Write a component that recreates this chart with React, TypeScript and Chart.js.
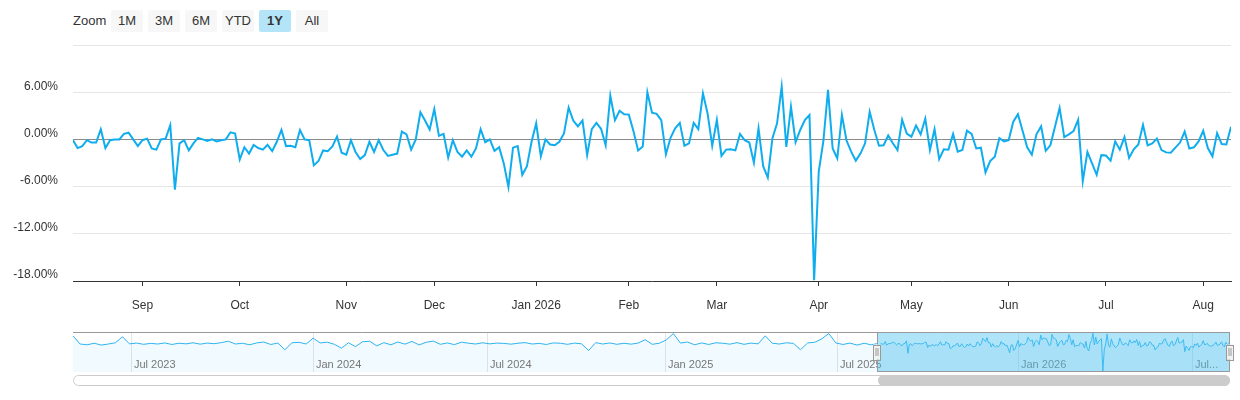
import React, { useEffect, useRef } from 'react';
import { Chart, registerables } from 'chart.js';

Chart.register(...registerables);

const FONT = '"Liberation Sans", Arial, Helvetica, sans-serif';
const LINE_COLOR = '#0fadee';

// Daily returns (%) for the selected 1Y window (trading days)
const DAILY_RETURNS: number[] = [
  -0.1, -1.1, -0.85, -0.1, -0.4, -0.4, 1.3, -1.1, -0.1, 0.0,
  0.0, 0.7, 0.85, 0.0, -0.85, -0.1, 0.1, -1.15, -1.3, 0.0,
  0.1, 1.8, -6.4, -0.5, -0.1, -1.4, -0.5, 0.2, 0.0, -0.2,
  0.0, -0.25, -0.1, 0.0, 0.9, 0.75, -2.55, -1.0, -1.8, -0.7,
  -1.1, -1.3, -0.7, -1.5, -0.3, 1.2, -0.85, -0.8, -1.0, 1.2,
  0.0, -0.1, -3.3, -2.75, -1.4, -1.5, -0.9, 0.35, -1.7, -1.95,
  -0.1, -1.6,
  -2.5, -2.0, -0.3, -1.6, -0.1, -1.35, -2.1, -1.95, -1.8, 1.0,
  0.65, -1.3, 0.0, 3.45, 2.4, 1.25, 3.85, 0.45, 0.7, -2.3,
  -0.1, -1.6, -2.2, -1.4, -2.2, -1.15, 1.3, -0.35, 0.0, -1.45,
  -1.0, -3.05, -6.05, -1.05, -0.85, -4.5, -3.4, -0.3, 2.05, -2.15,
  0.0, -0.65, -0.75, -0.3, 0.75, 4.05, 2.4, 1.65, 2.4, -2.0,
  1.3, 2.1, 1.35, -0.75, 5.55, 2.45, 3.65, 3.2, 3.15, 1.05,
  -1.4, -0.9,
  6.0, 3.4, 3.25, 2.45, -1.9, 0.2, 1.4, 2.1, -0.8, -0.5,
  2.1, 1.3, 5.85, 3.3, -0.8, 2.45, -2.1, -1.3, -1.25, -1.4,
  0.7, -0.1, -0.4, -2.95, 1.4, -3.4, -4.85, 0.15, 2.05, 6.7,
  -0.95, 4.15, -0.35, 1.2, 2.45, 3.1, -17.9, -4.1, -0.2, 6.3,
  -1.15, -2.4, 3.1, -0.15, -1.55, -2.7, -1.8, -0.5, 3.5, 1.2,
  -0.8, -0.75, 0.5, -0.5, -1.35, 2.5, 0.75, 0.35, 1.75, 0.65,
  2.65, -1.35, 1.3, -2.5,
  -1.25, -1.3, 0.7, -1.55, -1.35, 1.1, 0.7, -1.15, -1.05, -4.2,
  -2.75, -2.2, 0.15, -0.25, -0.1, 2.25, 3.2, 1.1, -1.0, -1.95,
  0.65, 1.65, -1.45, -0.75, 1.6, 4.0, 0.3, 0.65, 1.05, 2.5,
  -5.3, -1.6, -3.05, -4.5, -2.0, -2.05, -2.7, -0.25, -1.3, 0.3,
  -2.35, -1.25, -0.65, 1.85, -0.75, -0.5, 0.1, -1.35, -1.65, -1.7,
  -1.05, -0.4, 1.0, -1.15, -1.0, -0.25, 1.1, -1.1, -2.15, 0.8,
  -0.6, -0.65, 1.6,
];

const MONTH_LABELS: string[] = ['Sep', 'Oct', 'Nov', 'Dec', 'Jan 2026', 'Feb', 'Mar', 'Apr', 'May', 'Jun', 'Jul', 'Aug'];
const MONTH_START_INDEX: number[] = [15, 36, 59, 78, 100, 120, 139, 161, 181, 202, 223, 244];
const Y_TICKS: number[] = [-18, -12, -6, 0, 6, 12];

// Older history shown in the navigator (roughly weekly samples)
const HISTORY_RETURNS: number[] = [
  5.0, -0.3, -0.8, 0.2, -1.0, -0.3, 0.5, 4.4, -0.2, 0.3,
  -0.5, 0.1, -0.3, 0.4, -0.6, 0.2, -0.2, 0.5, -0.4, 0.3,
  -0.1, 0.6, 1.5, -0.3, 0.2, -0.8, 0.4, 1.0, -0.6, 0.3,
  -4.0, 0.5, 0.8, -0.3, 3.5, 0.4, 0.9, -0.5, -3.0, 0.5,
  -2.0, 1.2, 1.5, -1.5, 0.6, -0.8, 1.0, -0.4, 1.4, -0.9,
  0.8, 1.6, -0.5, 0.4, -0.7, 0.9, 0.2, -0.3, 0.5, -0.2,
  0.3, 0.1, -0.4, 0.2, 0.6, -0.3, 0.1, -0.6, 0.4, 0.2,
  -0.5, 0.3, -0.2, -4.5, 0.6, -0.3, 0.4, -0.5, 0.2, -0.4,
  0.3, 2.5, -0.5, 0.2, 2.4, 6.5, 0.3, 1.0, -0.8, 0.4,
  -0.6, 0.5, 0.2, -0.4, 0.6, -0.5, 0.3, -0.2, 5.0, 0.2,
  -0.3, 0.5, 0.1, -4.0, 0.4, 0.8, 3.0, 6.5, 0.4, -0.6,
  0.3, -1.0, 0.2, -0.8,
];
const HISTORY_STEP = 5;
const HISTORY_SPAN = 569;

const NAV_LABELS: string[] = ['Jul 2023', 'Jan 2024', 'Jul 2024', 'Jan 2025', 'Jul 2025', 'Jan 2026', 'Jul...'];
const NAV_LABEL_INDEX: number[] = [41, 170, 293, 419, 541, 669, 792];

const ZOOM_BUTTONS: string[] = ['1M', '3M', '6M', 'YTD', '1Y', 'All'];
const ACTIVE_BUTTON = '1Y';

function MainChart() {
  const ref = useRef<HTMLCanvasElement>(null);
  useEffect(() => {
    const chart = new Chart(ref.current as HTMLCanvasElement, {
      type: 'line',
      data: {
        datasets: [
          {
            data: DAILY_RETURNS.map((y, x) => ({ x, y })),
            borderColor: LINE_COLOR,
            borderWidth: 2,
            pointRadius: 0,
            tension: 0,
            fill: false,
          },
        ],
      },
      options: {
        animation: false,
        responsive: true,
        maintainAspectRatio: false,
        events: [],
        layout: { padding: { top: 45, right: 9, left: 0, bottom: 0 } },
        plugins: { legend: { display: false }, tooltip: { enabled: false } },
        scales: {
          x: {
            type: 'linear',
            min: 0,
            max: DAILY_RETURNS.length - 1,
            afterBuildTicks: (s: any) => {
              s.ticks = MONTH_START_INDEX.map((value) => ({ value }));
            },
            afterFit: (s: any) => {
              s.height = 39;
            },
            grid: { drawOnChartArea: false, drawTicks: true, tickLength: 5, color: '#333333' },
            border: { color: '#333333', width: 1 },
            ticks: {
              autoSkip: false,
              maxRotation: 0,
              padding: 12,
              color: '#333333',
              font: { family: FONT, size: 12 },
              callback: (v: any) => {
                const k = MONTH_START_INDEX.indexOf(Number(v));
                return k >= 0 ? MONTH_LABELS[k] : '';
              },
            },
          },
          y: {
            min: -18,
            max: 12,
            afterBuildTicks: (s: any) => {
              s.ticks = Y_TICKS.map((value) => ({ value }));
            },
            afterFit: (s: any) => {
              s.width = 73;
            },
            grid: {
              drawTicks: false,
              lineWidth: 1,
              color: (ctx: any) => (ctx.tick && ctx.tick.value === 0 ? '#8a8a8a' : '#e6e6e6'),
            },
            border: { display: false },
            ticks: {
              padding: 15,
              labelOffset: -6,
              color: '#333333',
              font: { family: FONT, size: 12 },
              callback: (v: any) => (Number(v) === 12 ? '' : Number(v).toFixed(2) + '%'),
            },
          },
        },
      },
    });
    return () => chart.destroy();
  }, []);
  return (
    <div style={{ position: 'absolute', left: 0, top: 0, width: 1240, height: 320 }}>
      <canvas ref={ref} />
    </div>
  );
}

function Navigator() {
  const ref = useRef<HTMLCanvasElement>(null);
  useEffect(() => {
    const navData = [
      ...HISTORY_RETURNS.map((y, i) => ({ x: i * HISTORY_STEP, y })),
      ...DAILY_RETURNS.map((y, j) => ({ x: HISTORY_SPAN + j, y })),
    ];
    const selStart = HISTORY_SPAN;
    const selEnd = HISTORY_SPAN + DAILY_RETURNS.length - 1;

    const overlay = {
      id: 'navOverlay',
      beforeDatasetsDraw(chart: any) {
        const { ctx, chartArea, scales } = chart;
        ctx.save();
        ctx.strokeStyle = '#e6e6e6';
        ctx.lineWidth = 1;
        NAV_LABEL_INDEX.forEach((v) => {
          const px = Math.round(scales.x.getPixelForValue(v)) + 0.5;
          ctx.beginPath();
          ctx.moveTo(px, chartArea.top);
          ctx.lineTo(px, chartArea.bottom);
          ctx.stroke();
        });
        ctx.restore();
      },
      afterDatasetsDraw(chart: any) {
        const { ctx, chartArea, scales } = chart;
        const { top, bottom, left, right } = chartArea;
        ctx.save();
        ctx.fillStyle = '#777777';
        ctx.font = `11px ${FONT}`;
        ctx.textBaseline = 'alphabetic';
        NAV_LABEL_INDEX.forEach((v, k) => {
          const px = Math.round(scales.x.getPixelForValue(v));
          ctx.fillText(NAV_LABELS[k], px + 3, bottom - 4);
        });
        const x0 = Math.round(scales.x.getPixelForValue(selStart));
        const x1 = Math.round(scales.x.getPixelForValue(selEnd));
        ctx.fillStyle = 'rgba(80,195,240,0.45)';
        ctx.fillRect(x0, top, x1 - x0, bottom - top);
        ctx.strokeStyle = '#999999';
        ctx.lineWidth = 1;
        ctx.beginPath();
        ctx.moveTo(left, top + 0.5);
        ctx.lineTo(right, top + 0.5);
        ctx.moveTo(x0 + 0.5, top);
        ctx.lineTo(x0 + 0.5, bottom - 0.5);
        ctx.lineTo(x1 - 0.5, bottom - 0.5);
        ctx.lineTo(x1 - 0.5, top);
        ctx.stroke();
        const cy = (top + bottom) / 2;
        [x0, x1].forEach((cx) => {
          ctx.fillStyle = '#f2f2f2';
          ctx.fillRect(cx - 4, cy - 7.5, 8, 15);
          ctx.strokeRect(cx - 3.5, Math.round(cy - 7.5) + 0.5, 7, 15);
          ctx.beginPath();
          ctx.moveTo(cx - 1.5 + 0.5, cy - 4);
          ctx.lineTo(cx - 1.5 + 0.5, cy + 4);
          ctx.moveTo(cx + 1.5 - 0.5, cy - 4);
          ctx.lineTo(cx + 1.5 - 0.5, cy + 4);
          ctx.stroke();
        });
        ctx.restore();
      },
    };

    const chart = new Chart(ref.current as HTMLCanvasElement, {
      type: 'line',
      data: {
        datasets: [
          {
            data: navData,
            borderColor: '#2db3f0',
            borderWidth: 1,
            backgroundColor: 'rgba(20,170,240,0.06)',
            fill: 'start',
            pointRadius: 0,
            tension: 0,
          },
        ],
      },
      options: {
        animation: false,
        responsive: true,
        maintainAspectRatio: false,
        events: [],
        layout: { padding: { top: 6, bottom: 4, left: 73, right: 10 } },
        plugins: { legend: { display: false }, tooltip: { enabled: false } },
        scales: {
          x: { type: 'linear', display: false, min: 0, max: selEnd },
          y: { display: false, min: -18.5, max: 7.5 },
        },
      },
      plugins: [overlay],
    });
    return () => chart.destroy();
  }, []);
  return (
    <div style={{ position: 'absolute', left: 0, top: 326, width: 1240, height: 50 }}>
      <canvas ref={ref} />
    </div>
  );
}

export default function App() {
  return (
    <div
      style={{
        position: 'absolute',
        left: 0,
        top: 0,
        width: 1240,
        height: 400,
        background: '#ffffff',
        fontFamily: FONT,
        overflow: 'hidden',
      }}
    >
      <div style={{ position: 'absolute', left: 73, top: 10, height: 22, lineHeight: '22px', fontSize: 13, color: '#333333' }}>
        Zoom
      </div>
      {ZOOM_BUTTONS.map((b, i) => {
        const active = b === ACTIVE_BUTTON;
        return (
          <div
            key={b}
            style={{
              position: 'absolute',
              left: 111 + 37 * i,
              top: 10,
              width: 32,
              height: 22,
              lineHeight: '22px',
              textAlign: 'center',
              fontSize: 13,
              borderRadius: 2,
              background: active ? '#b3e4f8' : '#f7f7f7',
              color: '#333333',
              fontWeight: active ? 700 : 400,
            }}
          >
            {b}
          </div>
        );
      })}
      <MainChart />
      <Navigator />
      <div
        style={{
          position: 'absolute',
          left: 73,
          top: 375,
          width: 1157,
          height: 11,
          border: '1px solid #cccccc',
          borderRadius: 6,
          background: '#ffffff',
          boxSizing: 'border-box',
        }}
      />
      <div
        style={{
          position: 'absolute',
          left: 878,
          top: 375,
          width: 352,
          height: 11,
          borderRadius: 6,
          background: '#cccccc',
        }}
      />
    </div>
  );
}
